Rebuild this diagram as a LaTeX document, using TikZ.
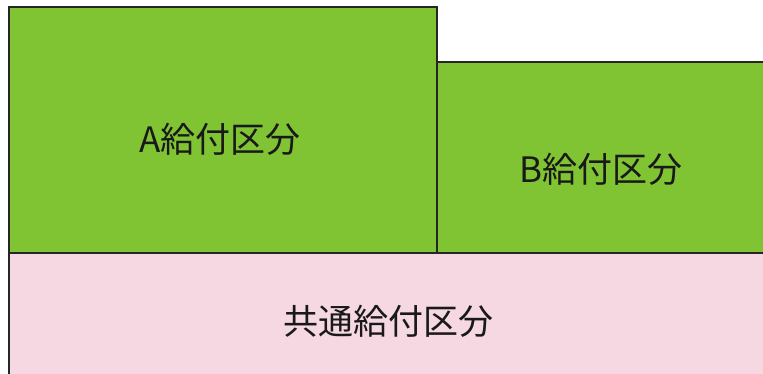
\documentclass[tikz,border=0pt]{standalone}
\usepackage{fontspec}
\newfontfamily\jpfont{Noto Sans CJK JP}
\usepackage{tikz}
\usetikzlibrary{positioning}
\definecolor{kyufugreen}{RGB}{128,196,52}
\definecolor{kyufupink}{RGB}{246,216,226}
\tikzset{%
  label text/.style={font=\jpfont\fontsize{35}{40}\selectfont, text=black!90, inner sep=0pt},
  edge line/.style={draw=black!85, line width=1.6pt}
}

\begin{document}
\begin{tikzpicture}[x=1pt, y=-1pt]
    \useasboundingbox (0,0) rectangle (763,374);
    % areas
    \fill[kyufugreen] (9,7) rectangle (437,253);
    \fill[kyufugreen] (437,62) rectangle (763,253);
    \fill[kyufupink] (9,253) rectangle (763,374);

    % outlines
    \draw[edge line] (9,374) -- (9,7) -- (437,7) -- (437,253);
    \draw[edge line] (437,62) -- (763,62);
    \draw[edge line] (9,253) -- (763,253);

    \node[label text] (a) at (220,139) {A給付区分};
    \node[label text] (b) at (601,169) {B給付区分};
    \node[label text] (common) at (388,321) {共通給付区分};
  \end{tikzpicture}
\end{document}
